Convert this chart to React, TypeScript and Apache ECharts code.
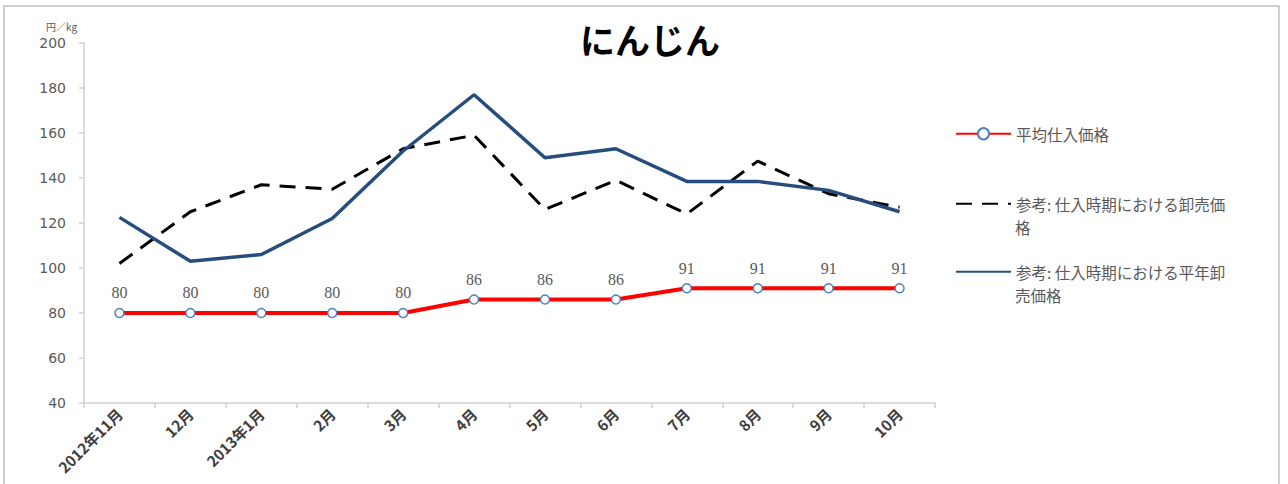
import React, { useEffect, useRef } from "react";
import * as echarts from "echarts";

const categories = ["2012年11月", "12月", "2013年1月", "2月", "3月", "4月", "5月", "6月", "7月", "8月", "9月", "10月"];
const avgPurchase = [80, 80, 80, 80, 80, 86, 86, 86, 91, 91, 91, 91];
const wholesaleAtPurchase = [102, 125, 137, 135, 153, 159, 126, 139, 124, 147.5, 133, 127];
const normalYearWholesale = [122.5, 103, 106, 122, 152, 177, 149, 153, 138.5, 138.5, 134.5, 125];
const seriesNames = ["平均仕入価格", "参考: 仕入時期における卸売価格", "参考: 仕入時期における平年卸売価格"];
const legendFirstLines = ["平均仕入価格", "参考: 仕入時期における卸売価", "参考: 仕入時期における平年卸"];
const legendSecondLines = ["", "格", "売価格"];
const yTicks = { min: 40, max: 200, interval: 20 };

const JP = "'Noto Sans CJK JP', 'Noto Sans', sans-serif";

export default function App() {
  const ref = useRef<HTMLDivElement>(null);
  useEffect(() => {
    if (!ref.current) return;
    const chart = echarts.init(ref.current, null, { renderer: "svg" });
    const legendTops = [121, 191, 259];
    const legendBase = {
      orient: "vertical",
      left: 950,
      itemWidth: 55,
      itemHeight: 14,
      itemGap: 5,
      selectedMode: false,
      textStyle: { fontFamily: JP, fontSize: 15.5, color: "#595959" },
    };
    const legends = seriesNames.map((name, i) => ({
      ...legendBase,
      top: legendTops[i],
      data: [name],
      formatter: () => legendFirstLines[i],
      ...(i > 0 ? { itemStyle: { opacity: 0 } } : {}),
    }));
    const secondLineGraphics = legendSecondLines
      .map((t, i) => ({ t, i }))
      .filter((o) => o.t)
      .map((o) => ({
        type: "text",
        x: 1015,
        y: legendTops[o.i] + 14 + 22,
        style: {
          text: o.t,
          fontFamily: JP,
          fontSize: 15.5,
          fill: "#595959",
          verticalAlign: "middle",
          align: "left",
        },
        silent: true,
      }));
    chart.setOption({
      animation: false,
      backgroundColor: "#ffffff",
      title: {
        text: "にんじん",
        left: 645,
        textAlign: "center",
        top: 16,
        textStyle: { fontFamily: JP, fontSize: 35, fontWeight: "bold", color: "#000000" },
      },
      graphic: [
        {
          type: "rect",
          shape: { x: 4, y: 6, width: 1275, height: 500 },
          style: { fill: "none", stroke: "#bfbfbf", lineWidth: 1.5 },
          silent: true,
        },
        {
          type: "text",
          x: 46,
          y: 21,
          style: { text: "円／kg", fontFamily: JP, fontSize: 10, fill: "#595959" },
          silent: true,
        },
        ...secondLineGraphics,
      ],
      legend: legends,
      grid: { left: 84, right: 353, top: 43, bottom: 81, containLabel: false },
      xAxis: {
        type: "category",
        data: categories,
        boundaryGap: true,
        axisLine: { lineStyle: { color: "#d0d0d0", width: 1.5 } },
        axisTick: { show: true, length: 5, lineStyle: { color: "#d0d0d0", width: 1.5 } },
        axisLabel: {
          rotate: 45,
          margin: 8,
          interval: 0,
          fontFamily: JP,
          fontSize: 15,
          fontWeight: "bold",
          color: "#404040",
        },
        splitLine: { show: false },
      },
      yAxis: {
        type: "value",
        min: yTicks.min,
        max: yTicks.max,
        interval: yTicks.interval,
        axisLine: { show: true, lineStyle: { color: "#d0d0d0", width: 1.5 } },
        axisTick: { show: true, length: 5, lineStyle: { color: "#d0d0d0", width: 1.5 } },
        axisLabel: { fontFamily: "'DejaVu Sans', sans-serif", fontSize: 14, color: "#595959", margin: 18 },
        splitLine: { show: false },
      },
      series: [
        {
          name: seriesNames[0],
          type: "line",
          data: avgPurchase,
          z: 5,
          symbol: "circle",
          symbolSize: 9,
          itemStyle: { color: "#ffffff", borderColor: "#4f81bd", borderWidth: 1.5 },
          lineStyle: { color: "#ff0000", width: 4 },
          label: {
            show: true,
            position: "top",
            distance: 7,
            fontFamily: "'Liberation Serif', serif",
            fontSize: 16,
            color: "#595959",
          },
        },
        {
          name: seriesNames[1],
          type: "line",
          data: wholesaleAtPurchase,
          symbol: "none",
          itemStyle: { color: "#000000" },
          lineStyle: { color: "#000000", width: 3, type: [16, 10] },
        },
        {
          name: seriesNames[2],
          type: "line",
          data: normalYearWholesale,
          symbol: "none",
          itemStyle: { color: "#254e7e" },
          lineStyle: { color: "#254e7e", width: 3.5 },
        },
      ],
    });
    return () => chart.dispose();
  }, []);
  return <div ref={ref} style={{ position: "fixed", left: 0, top: 0, width: 1288, height: 484 }} />;
}
